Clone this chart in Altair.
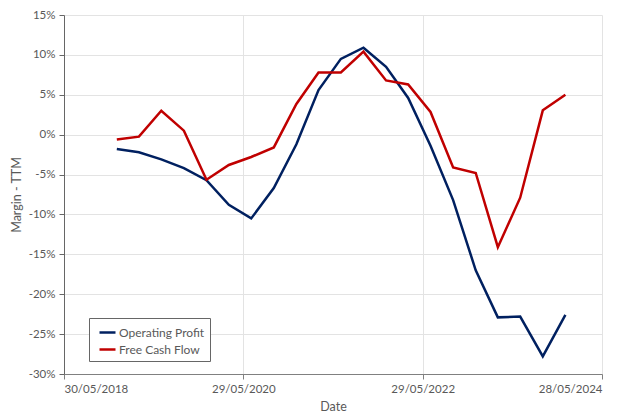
import altair as alt
import pandas as pd

dates = ["2018-12-31", "2019-03-31", "2019-06-30", "2019-09-30", "2019-12-31",
         "2020-03-31", "2020-06-30", "2020-09-30", "2020-12-31", "2021-03-31",
         "2021-06-30", "2021-09-30", "2021-12-31", "2022-03-31", "2022-06-30",
         "2022-09-30", "2022-12-31", "2023-03-31", "2023-06-30", "2023-09-30",
         "2023-12-31"]
operating_profit = [-1.8, -2.2, -3.1, -4.2, -5.7, -8.8, -10.5, -6.7, -1.2, 5.6,
                    9.5, 10.9, 8.5, 4.6, -1.4, -8.2, -17.0, -22.9, -22.8, -27.8,
                    -22.6]
free_cash_flow = [-0.6, -0.25, 3.0, 0.5, -5.65, -3.8, -2.8, -1.6, 3.85, 7.8,
                  7.8, 10.4, 6.8, 6.3, 2.85, -4.1, -4.8, -14.1, -7.9, 3.05,
                  5.0]
series_names = ["Operating Profit", "Free Cash Flow"]
series_colors = ["#002060", "#C00000"]
y_ticks = [15, 10, 5, 0, -5, -10, -15, -20, -25, -30]

rows = []
for d, v in zip(dates, operating_profit):
    rows.append({"Date": d, "Series": series_names[0], "Value": v})
for d, v in zip(dates, free_cash_flow):
    rows.append({"Date": d, "Series": series_names[1], "Value": v})
df = pd.DataFrame(rows)

x_ticks = [
    alt.DateTime(year=2018, month=5, date=30, utc=True),
    alt.DateTime(year=2020, month=5, date=29, utc=True),
    alt.DateTime(year=2022, month=5, date=29, utc=True),
    alt.DateTime(year=2024, month=5, date=28, utc=True),
]

font = "Lato"
label_color = "#595959"

chart = alt.Chart(df).mark_line(strokeWidth=2.5).encode(
    x=alt.X("Date:T",
            scale=alt.Scale(type="utc", domain=[x_ticks[0], x_ticks[-1]]),
            axis=alt.Axis(values=x_ticks, format="%d/%m/%Y", title="Date",
                          grid=True, gridColor="#e3e3e3", domainColor="#808080",
                          tickColor="#808080", tickSize=5, labelPadding=4,
                          titlePadding=6)),
    y=alt.Y("Value:Q",
            scale=alt.Scale(domain=[-30, 15], nice=False, zero=False),
            axis=alt.Axis(values=y_ticks, labelExpr="datum.value + '%'",
                          title="Margin - TTM", grid=True, gridColor="#e3e3e3",
                          domainColor="#666666", tickColor="#666666", tickSize=5,
                          labelPadding=4, titlePadding=5)),
    color=alt.Color("Series:N",
                    scale=alt.Scale(domain=series_names, range=series_colors),
                    legend=alt.Legend(title=None, orient="none", legendX=25, legendY=303,
                                      symbolType="stroke", symbolSize=256,
                                      symbolStrokeWidth=2.5, symbolOffset=4,
                                      strokeColor="#666666",
                                      fillColor="white", padding=5, rowPadding=1,
                                      labelFontSize=12, labelColor=label_color,
                                      labelFont=font, labelOffset=2)),
).properties(
    width=538, height=359,
    autosize=alt.AutoSizeParams(type="none"),
    padding={"left": 56, "top": 7, "right": 30, "bottom": 40},
).configure_view(stroke=None).configure_axis(
    labelFont=font, titleFont=font, labelFontSize=11.5, titleFontSize=12.5,
    labelColor=label_color, titleColor=label_color, titleFontWeight="normal",
)

chart.save("out.html", embed_options={"renderer": "svg", "actions": False})
